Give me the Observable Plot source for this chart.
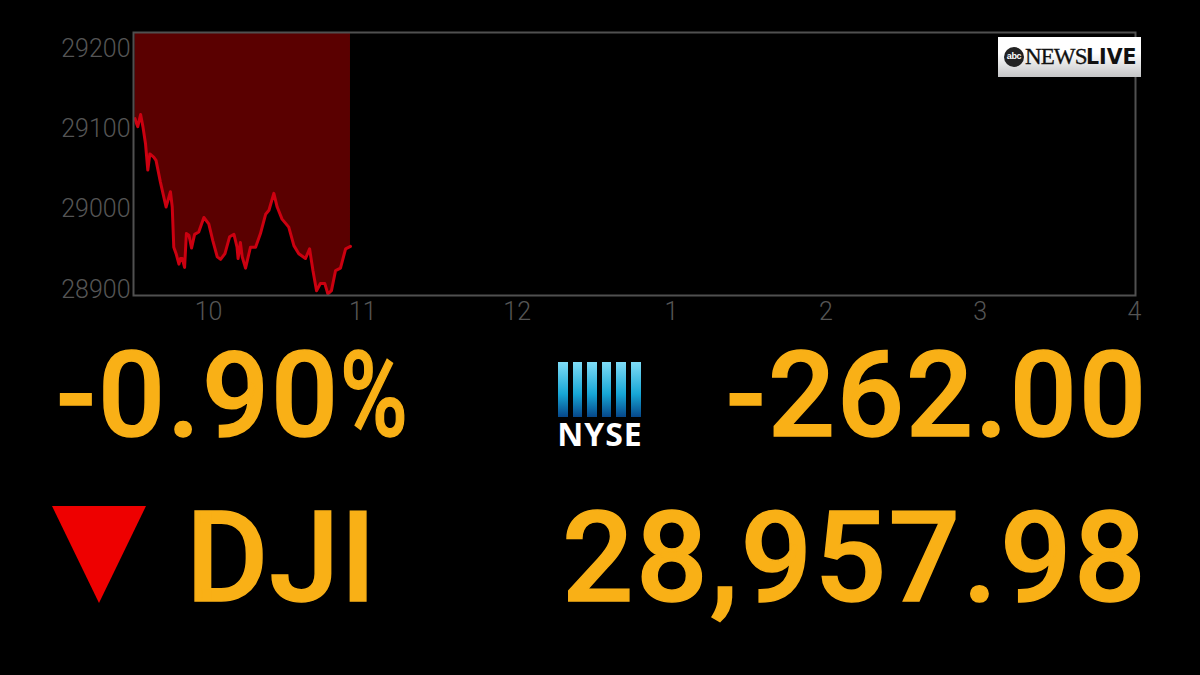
<!DOCTYPE html>
<html><head><meta charset="utf-8">
<script src="https://cdn.jsdelivr.net/npm/d3@7"></script>
<script src="https://cdn.jsdelivr.net/npm/@observablehq/plot@0.6"></script>
<style>
html,body{margin:0;padding:0;background:#000;width:1200px;height:675px;overflow:hidden}
#chart{position:absolute;left:0;top:0}
.big{position:absolute;font-family:Roboto,sans-serif;font-weight:500;color:#f9b016;white-space:nowrap;line-height:.8;-webkit-text-stroke:1.5px #f9b016}
.pc{display:inline-block;transform:scaleX(.78);transform-origin:left center}
#logo{position:absolute;left:998px;top:37px;width:143px;height:40px;background:linear-gradient(#fff 40%,#c4c5c7);overflow:hidden}
#ball{position:absolute;left:6px;top:10px;width:20px;height:20px;border-radius:50%;background:#222;color:#fff;font:700 9px/19px "Liberation Sans";text-align:center;letter-spacing:-.3px}
#news{position:absolute;left:27px;top:8px;font:400 23px/24px "Liberation Serif";letter-spacing:-.9px;color:#111;-webkit-text-stroke:.3px #111}
#live{position:absolute;left:88px;top:8px;font:700 20.5px/24px "DejaVu Sans";color:#111}
#nyse{position:absolute;left:558px;top:362px;width:84px;height:85px}
#nyse i{position:absolute;top:0;width:9.5px;height:55px;background:linear-gradient(#7fdcf6,#17a7d6 58%,#06478a)}
#nyse b{position:absolute;left:-1px;top:56px;width:86px;text-align:center;font:700 32px/32px "Open Sans";color:#fff;letter-spacing:1px}
#tri{position:absolute;left:52px;top:506px}
</style></head><body>
<div id="chart"></div>
<div class="big" id="pct" style="left:56px;top:349px;font-size:118px;letter-spacing:2px">-0.90<span class="pc">%</span></div>
<div class="big" id="chg" style="right:52px;top:349px;font-size:118px;letter-spacing:2px">-262.00</div>
<div class="big" id="nm" style="left:186px;top:508px;font-size:126px;letter-spacing:1px">DJI</div>
<div class="big" id="val" style="right:52px;top:508px;font-size:126px;letter-spacing:2.4px">28,957.98</div>
<svg id="tri" width="94" height="97"><polygon id="triP" fill="#ee0000"/></svg>
<div id="nyse"><b>NYSE</b></div>
<div id="logo"><div id="ball">abc</div><div id="news">NEWS</div><div id="live">LIVE</div></div>
<script>
const minutes=[571.4,572,572.5,573.6,574.5,575.5,576.4,577.2,578.7,579.6,581.3,583.5,585.2,585.9,586.5,587.4,588.5,589.1,589.8,590.7,591.4,592.4,593.4,594.6,596.2,598.2,600.1,601.7,603.4,604.7,606.4,608.2,609.9,611.1,611.5,612.4,613.1,614.4,616.3,618.3,620.2,622.2,623.5,625.4,626.7,628.6,631.2,633.2,635.1,637.7,639.3,640.6,642,643.5,645.2,646.4,647.8,649.4,651.3,653.3,655.2];
const values=[29113,29107,29103,29118,29103,29082,29049,29069,29065,29061,29034,29003,29022,29003,28953,28945,28932,28939,28939,28928,28970,28968,28952,28969,28972,28990,28982,28961,28941,28938,28945,28966,28969,28953,28939,28959,28941,28927,28953,28953,28970,28994,28999,29020,29003,28988,28978,28955,28945,28939,28951,28924,28899,28908,28908,28895,28899,28924,28927,28951,28954];
const yTicks=[28900,29000,29100,29200];
const xTicks=[600,660,720,780,840,900,960];
const xLabels=["10","11","12","1","2","3","4"];
const series=minutes.map((m,i)=>({m,v:values[i]}));
const yTop=29220,yBottom=28893;
const plot=Plot.plot({
  width:1200,height:330,
  marginLeft:133,marginRight:65,marginTop:32,marginBottom:35,
  style:{background:"transparent",fontFamily:"Roboto",overflow:"visible"},
  x:{domain:[570.84,960.4],ticks:xTicks,tickFormat:d=>xLabels[xTicks.indexOf(d)],tickSize:0,tickPadding:7,label:null},
  y:{domain:[yBottom,yTop],ticks:yTicks,tickSize:0,tickPadding:3,tickFormat:d=>String(d),label:null},
  marks:[
    Plot.areaY(series,{x:"m",y1:"v",y2:()=>yTop,fill:"#5a0000"}),
    Plot.lineY(series,{x:"m",y:"v",stroke:"#cc0010",strokeWidth:3}),
    Plot.frame({stroke:"#505050",strokeWidth:2})
  ]
});
plot.querySelectorAll('[aria-label="x-axis tick label"] text,[aria-label="y-axis tick label"] text').forEach(t=>{t.setAttribute("fill","#555");t.style.fontSize="25px";t.style.fontWeight="300"});
document.getElementById("chart").append(plot);
document.getElementById("triP").setAttribute("points","0,0 94,0 47,97");
const ny=document.getElementById("nyse");
[0,1,2,3,4,5].forEach(k=>{const b=document.createElement("i");b.style.left=(k*14.6)+"px";ny.append(b)});
</script>
</body></html>
